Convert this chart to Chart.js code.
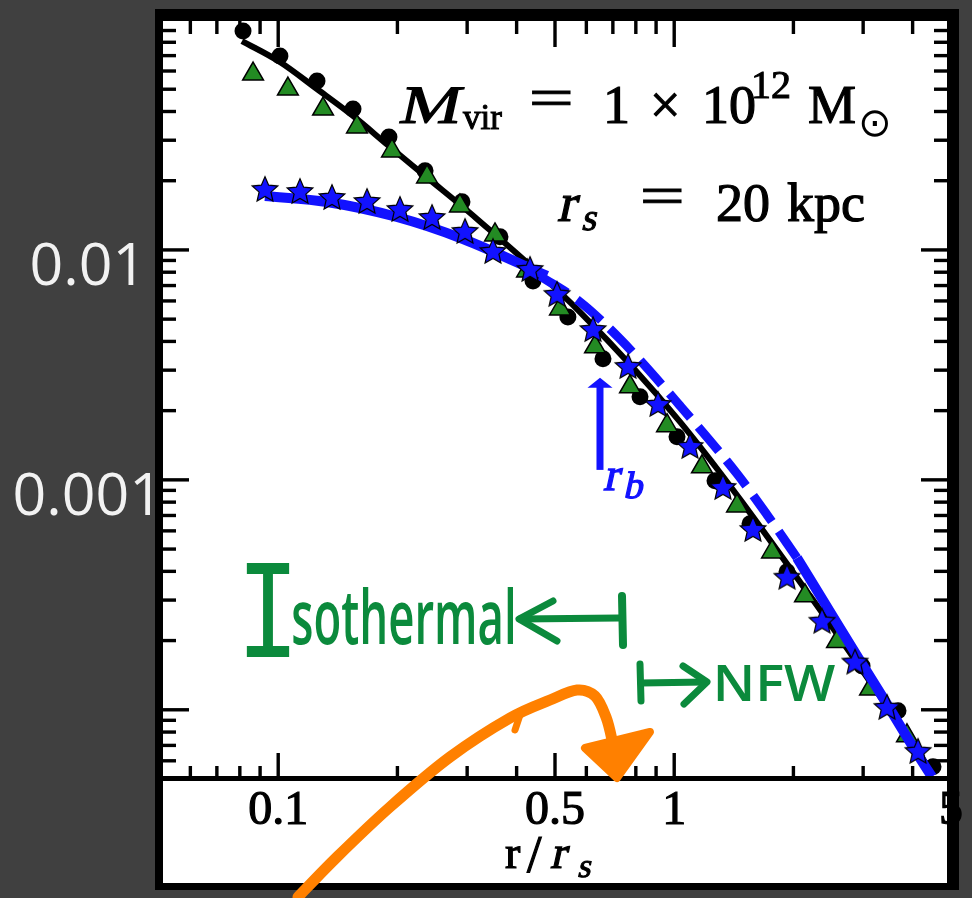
<!DOCTYPE html>
<html>
<head>
<meta charset="utf-8">
<title>Halo density profiles</title>
<script src="https://cdn.jsdelivr.net/npm/chart.js@4"></script>
<style>
  html, body { margin: 0; padding: 0; background: #404040; }
  #profile { display: block; }
</style>
</head>
<body>
<canvas id="profile" width="972" height="898"></canvas>
<script>
// radius in units of r_s, density in the plot's units

// NFW fit (black solid)
const nfwCurveR   = [0.0810, 0.1010, 0.1253, 0.1545, 0.1904, 0.2349, 0.3177, 0.5783, 1.0344, 2.2026, 4.5032];
const nfwCurveRho = [0.0810, 0.0657, 0.0501, 0.03825, 0.0283, 0.02098, 0.01364, 0.00537, 0.001787, 0.000313, 0.0000527];

// NFW halo (black circles)
const nfwR   = [0.0815, 0.1010, 0.1253, 0.1545, 0.1904, 0.2349, 0.2911, 0.3631, 0.4400, 0.5389,
                0.6609, 0.8196, 1.0164, 1.2677, 1.5540, 1.9271, 2.4315, 2.9810, 3.6738, 4.5032];
const nfwRho = [0.0896, 0.0698, 0.0543, 0.0410, 0.0310, 0.0221, 0.0162, 0.0114, 0.00733, 0.00511,
                0.00336, 0.00230, 0.00154, 0.00099, 0.000644, 0.000398, 0.000244, 0.000155, 0.0000990, 0.0000565];

// isothermal halo (green triangles)
const isoR   = [0.0864, 0.1058, 0.1298, 0.1581, 0.1938, 0.2376, 0.2877, 0.3527, 0.4250, 0.5147,
                0.6310, 0.7733, 0.9590, 1.1752, 1.4409, 1.7661, 2.1393, 2.5770, 3.1228, 3.8709];
const isoRho = [0.0582, 0.0501, 0.0410, 0.03425, 0.02695, 0.02077, 0.01553, 0.01162, 0.0081, 0.00554,
                0.00379, 0.00254, 0.00172, 0.00114, 0.00077, 0.000486, 0.000313, 0.000198, 0.000123, 0.0000771];

// cored halo (blue stars)
const coredR   = [0.0926, 0.1135, 0.1367, 0.1676, 0.2030, 0.2446, 0.2963, 0.3486, 0.4325, 0.5059, 0.6237,
                  0.7644, 0.9102, 1.0964, 1.3278, 1.5811, 1.9271, 2.3619, 2.8620, 3.4468, 4.1276];
const coredRho = [0.01842, 0.01805, 0.0170, 0.01633, 0.01508, 0.01391, 0.0121, 0.0099, 0.00827, 0.00644, 0.00453,
                  0.00313, 0.00214, 0.001405, 0.000932, 0.000612, 0.000379, 0.000244, 0.000162, 0.000103, 0.0000663];

// cored fit, solid part (gap where it runs under the NFW curve)
const coredCurveR   = [0.0926, 0.1328, 0.1995, 0.2929, 0.4773, 1.0, 2.042, 2.592, 3.309, 4.20, 4.477];
const coredCurveRho = [0.01717, 0.01617, 0.01391, 0.01116, 0.00771, null, 0.000458, 0.000234, 0.0001186, 0.0000606, 0.0000511];

// cored fit, dashed part
const coredDashR   = [0.4583, 0.5783, 0.7295, 1.0344, 1.4409, 1.716, 2.042];
const coredDashRho = [0.00771, 0.00594, 0.00410, 0.00210, 0.001062, 0.000705, 0.000458];

// break radius marker
const rB = 0.6495;
const rBArrow = [0.001105, 0.002777];

const xTickValues = [0.1, 0.5, 1, 5];
const xTickLabels = ['0.1', '0.5', '1', '5'];
const yTickValues = [0.01, 0.001];
const yTickLabels = ['0.01', '0.001'];

const serif = '"Liberation Serif", serif';
const blue = '#1212ff';
const green = '#238b23';
const ink = '#0b8a3c';
const orange = '#ff8000';

function toPoints(xs, ys) {
  return xs.map((x, i) => ({ x: x, y: ys[i] }));
}

// filled five point star used as a point style
function starImage(size, fill) {
  const c = document.createElement('canvas');
  c.width = size; c.height = size;
  const g = c.getContext('2d');
  const R = size / 2 - 1.5, r = R * 0.46, cx = size / 2, cy = size / 2 + R * 0.09;
  g.beginPath();
  for (let i = 0; i < 10; i++) {
    const a = -Math.PI / 2 + i * Math.PI / 5;
    const rr = i % 2 ? r : R;
    g.lineTo(cx + rr * Math.cos(a), cy + rr * Math.sin(a));
  }
  g.closePath();
  g.fillStyle = fill;
  g.fill();
  g.lineWidth = 1.2;
  g.strokeStyle = '#000';
  g.stroke();
  return c;
}

function logValues(min, max) {
  const out = [];
  for (let e = Math.floor(Math.log10(min)); e <= Math.ceil(Math.log10(max)); e++) {
    for (let k = 1; k < 10; k++) {
      const v = k * Math.pow(10, e);
      if (v >= min * 0.999 && v <= max * 1.001) out.push({ v: v, k: k });
    }
  }
  return out;
}

// text with optional slant (math italic), outline weight and ink width fitting
function txt(ctx, s, x, y, o) {
  ctx.save();
  ctx.font = o.font;
  const m = ctx.measureText(s);
  let kx = 1, dx = 0;
  if (o.width) {
    kx = o.width / (m.actualBoundingBoxLeft + m.actualBoundingBoxRight);
    dx = m.actualBoundingBoxLeft * kx;
  }
  ctx.translate(x + dx, y);
  if (o.italic) ctx.transform(1, 0, -0.22, 1, 0, 0);
  ctx.scale(kx, o.ky || 1);
  ctx.fillStyle = o.color || '#000';
  ctx.fillText(s, 0, 0);
  if (o.bold) {
    ctx.lineWidth = o.bold;
    ctx.strokeStyle = o.color || '#000';
    ctx.strokeText(s, 0, 0);
  }
  ctx.restore();
}

function stroke(ctx, pts, width, color) {
  ctx.beginPath();
  ctx.moveTo(pts[0][0], pts[0][1]);
  for (let i = 1; i < pts.length; i++) ctx.lineTo(pts[i][0], pts[i][1]);
  ctx.lineWidth = width;
  ctx.strokeStyle = color;
  ctx.stroke();
}

// smooth stroke through a list of points
function smooth(ctx, pts, width, color) {
  ctx.beginPath();
  ctx.moveTo(pts[0][0], pts[0][1]);
  for (let i = 0; i < pts.length - 1; i++) {
    const p0 = pts[Math.max(i - 1, 0)], p1 = pts[i], p2 = pts[i + 1], p3 = pts[Math.min(i + 2, pts.length - 1)];
    ctx.bezierCurveTo(p1[0] + (p2[0] - p0[0]) / 6, p1[1] + (p2[1] - p0[1]) / 6,
                      p2[0] - (p3[0] - p1[0]) / 6, p2[1] - (p3[1] - p1[1]) / 6, p2[0], p2[1]);
  }
  ctx.lineWidth = width;
  ctx.strokeStyle = color;
  ctx.stroke();
}

function drawFrame(ctx) {
  ctx.fillStyle = '#000';
  ctx.fillRect(155, 9, 8, 881);
  ctx.fillRect(155, 9, 804, 12);
  ctx.fillRect(947, 9, 12, 881);
  ctx.fillRect(155, 883, 804, 7);
}

const figure = {
  id: 'figure',
  beforeDraw(chart) {
    const ctx = chart.ctx;
    ctx.save();
    ctx.fillStyle = '#404040';
    ctx.fillRect(0, 0, chart.width, chart.height);
    ctx.fillStyle = '#000';
    ctx.fillRect(155, 9, 804, 881);
    ctx.fillStyle = '#fff';
    ctx.fillRect(163, 21, 784, 862);
    ctx.restore();
  },
  afterDatasetsDraw(chart) {
    const ctx = chart.ctx;
    const xs = chart.scales.x, ys = chart.scales.y;
    const L = 163, R = 947, T = 21, B = 779;
    ctx.save();
    ctx.fillStyle = '#000';
    // inward ticks on all four sides
    logValues(xs.min, xs.max).forEach(t => {
      const px = xs.getPixelForValue(t.v);
      if (px < L || px > R) return;
      const major = xTickValues.some(v => Math.abs(v - t.v) < 1e-9);
      const len = major ? 26 : 13;
      ctx.fillRect(px - 1.7, B - len, 3.4, len);
      ctx.fillRect(px - 1.7, T, 3.4, len);
    });
    logValues(ys.min, ys.max).forEach(t => {
      const py = ys.getPixelForValue(t.v);
      if (py < T || py > B) return;
      const len = t.k === 1 ? 26 : 13;
      ctx.fillRect(L, py - 1.7, len, 3.4);
      ctx.fillRect(R - len, py - 1.7, len, 3.4);
    });
    ctx.fillRect(L, B - 3, R - L, 5);
    drawFrame(ctx);

    // break radius arrow
    const ax = xs.getPixelForValue(rB);
    const a0 = ys.getPixelForValue(rBArrow[0]);
    const a1 = ys.getPixelForValue(rBArrow[1]);
    ctx.fillStyle = blue;
    ctx.fillRect(ax - 3.5, a1 + 9, 7, a0 - a1 - 9);
    ctx.beginPath();
    ctx.moveTo(ax - 12.5, a1 + 10);
    ctx.lineTo(ax + 12.5, a1 + 10);
    ctx.lineTo(ax, a1);
    ctx.closePath();
    ctx.fill();
    txt(ctx, 'r', ax + 3, a0 + 20, { font: '46px ' + serif, italic: true, color: blue, bold: 1.3 });
    txt(ctx, 'b', ax + 23, a0 + 28, { font: '38px ' + serif, italic: true, color: blue, bold: 1.3 });

    // halo parameters
    const big = '54px ' + serif;
    txt(ctx, 'M', 399, 123, { font: big, italic: true, width: 58, bold: 1.2 });
    txt(ctx, 'vir', 463, 129, { font: '35px ' + serif, bold: 1 });
    txt(ctx, '=', 532, 116, { font: big, width: 38, bold: 1.2 });
    txt(ctx, '1', 603, 123, { font: big, bold: 1.2 });
    txt(ctx, '\u00d7', 650, 123, { font: big, bold: 1.2 });
    txt(ctx, '10', 702, 123, { font: big, bold: 1.2 });
    txt(ctx, '12', 751, 98, { font: '40px ' + serif, bold: 1 });
    txt(ctx, 'M', 808, 123, { font: big, bold: 1.2 });
    txt(ctx, '\u2299', 858, 136, { font: '40px "DejaVu Sans"' });

    txt(ctx, 'r', 557, 221, { font: big, italic: true, bold: 1.2 });
    txt(ctx, 's', 581, 230, { font: '38px ' + serif, italic: true, bold: 1 });
    txt(ctx, '=', 643, 214, { font: big, width: 38, bold: 1.2 });
    txt(ctx, '20', 716, 221, { font: big, bold: 1.2 });
    txt(ctx, 'kpc', 787, 221, { font: big, bold: 1.2 });

    // axis title
    txt(ctx, 'r', 505, 868, { font: '46px ' + serif, bold: 1.2 });
    txt(ctx, '/', 527, 872, { font: '52px ' + serif, bold: 1.2 });
    txt(ctx, 'r', 550, 868, { font: '46px ' + serif, italic: true, bold: 1.2 });
    txt(ctx, 's', 577, 877, { font: '34px ' + serif, italic: true, bold: 1 });
    ctx.restore();
  },
  afterDraw(chart) {
    const ctx = chart.ctx;
    ctx.save();
    ctx.lineCap = 'round';
    ctx.lineJoin = 'round';

    // hand-written notes
    txt(ctx, 'I', 246, 657, { font: '110px "Liberation Mono"', width: 44, ky: 1.3, color: ink });
    txt(ctx, 'sothermal', 293, 644, { font: '600 76px "Open Sans"', width: 220, color: ink });
    stroke(ctx, [[520, 619], [619, 618]], 7, ink);
    stroke(ctx, [[553, 601], [519, 619], [557, 641]], 7, ink);
    stroke(ctx, [[622, 596], [623, 645]], 8, ink);

    stroke(ctx, [[640, 664], [641, 701]], 7, ink);
    stroke(ctx, [[641, 683], [705, 682]], 7, ink);
    stroke(ctx, [[683, 666], [707, 682], [684, 704]], 7, ink);
    txt(ctx, 'NFW', 717, 701, { font: '600 50px "Open Sans"', width: 118, color: ink });

    smooth(ctx, [[298, 897], [337, 857], [390, 807], [450, 757], [510, 718], [550, 700],
                 [577, 690], [595, 696], [606, 717], [612, 740], [617, 770]], 11, orange);
    stroke(ctx, [[521, 712], [515, 730]], 7, orange);
    ctx.beginPath();
    ctx.moveTo(585, 748);
    ctx.lineTo(650, 732);
    ctx.lineTo(617, 778);
    ctx.closePath();
    ctx.fillStyle = orange;
    ctx.fill();
    ctx.lineWidth = 8;
    ctx.strokeStyle = orange;
    ctx.stroke();
    ctx.restore();
  }
};

const star = starImage(30, blue);

new Chart(document.getElementById('profile'), {
  type: 'scatter',
  data: {
    datasets: [
      {
        label: 'cored halo',
        data: toPoints(coredR, coredRho),
        pointStyle: star,
        order: 0
      },
      {
        type: 'line',
        label: 'cored fit',
        data: toPoints(coredCurveR, coredCurveRho),
        borderColor: blue,
        borderWidth: 10,
        pointRadius: 0,
        fill: false,
        spanGaps: false,
        cubicInterpolationMode: 'monotone',
        borderJoinStyle: 'round',
        order: 1
      },
      {
        type: 'line',
        label: 'cored fit (dashed)',
        data: toPoints(coredDashR, coredDashRho),
        borderColor: blue,
        borderWidth: 9,
        borderDash: [32, 12],
        pointRadius: 0,
        fill: false,
        cubicInterpolationMode: 'monotone',
        order: 2
      },
      {
        label: 'isothermal',
        data: toPoints(isoR, isoRho),
        pointStyle: 'triangle',
        pointRadius: 12,
        backgroundColor: green,
        borderColor: '#000',
        borderWidth: 1.5,
        order: 3
      },
      {
        label: 'NFW',
        data: toPoints(nfwR, nfwRho),
        pointStyle: 'circle',
        pointRadius: 8.5,
        backgroundColor: '#000',
        borderColor: '#000',
        borderWidth: 0,
        order: 4
      },
      {
        type: 'line',
        label: 'NFW fit',
        data: toPoints(nfwCurveR, nfwCurveRho),
        borderColor: '#000',
        borderWidth: 6,
        pointRadius: 0,
        fill: false,
        cubicInterpolationMode: 'monotone',
        order: 5
      }
    ]
  },
  options: {
    responsive: false,
    animation: false,
    devicePixelRatio: 1,
    layout: { padding: { top: 20, right: 21, left: 0, bottom: 0 } },
    plugins: { legend: { display: false }, tooltip: { enabled: false } },
    scales: {
      x: {
        type: 'logarithmic',
        min: 0.05,
        max: 5,
        afterFit: s => { s.height = 119; s.paddingLeft = 0; s.paddingRight = 0; },
        afterBuildTicks: s => { s.ticks = xTickValues.map(v => ({ value: v })); },
        ticks: {
          callback: v => xTickLabels[xTickValues.indexOf(v)],
          autoSkip: false,
          maxRotation: 0,
          color: '#000',
          padding: 4,
          font: { family: serif, size: 48 },
          textStrokeColor: '#000',
          textStrokeWidth: 1.2
        },
        grid: { display: false, drawTicks: false },
        border: { display: false }
      },
      y: {
        type: 'logarithmic',
        min: 0.00005,
        max: 0.1,
        z: 2,
        afterFit: s => { s.width = 159; s.paddingTop = 0; s.paddingBottom = 0; },
        afterBuildTicks: s => { s.ticks = yTickValues.map(v => ({ value: v })); },
        ticks: {
          callback: v => yTickLabels[yTickValues.indexOf(v)],
          autoSkip: false,
          crossAlign: 'center',
          padding: -4,
          labelOffset: 18,
          color: '#f2f2f2',
          font: { family: '"Open Sans"', size: 59 }
        },
        grid: { display: false, drawTicks: false },
        border: { display: false }
      }
    }
  },
  plugins: [figure]
});
</script>
</body>
</html>
